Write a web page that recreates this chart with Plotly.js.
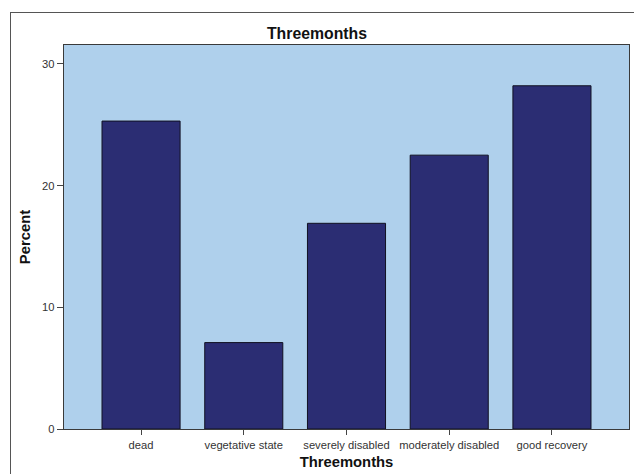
<!DOCTYPE html>
<html>
<head>
<meta charset="utf-8">
<script src="https://cdn.plot.ly/plotly-3.0.1.min.js"></script>
<style>
html,body{margin:0;padding:0;width:634px;height:474px;overflow:hidden;background:#fff;}
#frame{position:absolute;left:10px;top:12px;width:640px;height:520px;border:1px solid #555;box-sizing:border-box;pointer-events:none;z-index:5;}
#chart{position:absolute;left:0;top:0;width:634px;height:474px;}
</style>
</head>
<body>
<div id="chart"></div>
<div id="frame"></div>
<script>
const categories = ["dead", "vegetative state", "severely disabled", "moderately disabled", "good recovery"];
const percents = [25.3, 7.1, 16.9, 22.5, 28.2];
const yTicks = [0, 10, 20, 30];

const trace = {
  type: 'bar',
  x: categories,
  y: percents,
  width: 0.76,
  marker: {color: '#2b2d73', line: {color: '#111122', width: 1}},
  hoverinfo: 'x+y'
};

const layout = {
  width: 634, height: 474,
  margin: {l: 64, r: 5, t: 45, b: 45},
  paper_bgcolor: 'rgba(0,0,0,0)',
  plot_bgcolor: '#afd0ec',
  showlegend: false,
  font: {family: 'Liberation Sans, Arial, sans-serif', color: '#333'},
  title: {text: '<b>Threemonths</b>', x: 0.5, xanchor: 'center', y: 1 - 33/474, yanchor: 'middle',
          font: {size: 15.8, color: '#111', family: 'Liberation Sans, Arial, sans-serif'}},
  xaxis: {
    type: 'category',
    range: [-0.75, 4.75],
    showgrid: false, zeroline: false,
    showline: true, linecolor: '#3a3a3a', linewidth: 1.3, mirror: true,
    ticks: 'outside', ticklen: 5, tickcolor: '#444',
    tickfont: {size: 11.2, color: '#333'},
    title: {text: '<b>Threemonths</b>', standoff: 7, font: {size: 14.8, color: '#111'}}
  },
  yaxis: {
    range: [0, 31.55],
    tickvals: yTicks,
    showgrid: false, zeroline: false,
    showline: true, linecolor: '#3a3a3a', linewidth: 1.3, mirror: true,
    ticks: 'outside', ticklen: 6, tickcolor: '#444',
    tickfont: {size: 11.2, color: '#333'},
    title: {text: '<b>Percent</b>', standoff: 7, font: {size: 14.8, color: '#111'}}
  },
  bargap: 0.24
};

Plotly.newPlot('chart', [trace], layout, {displayModeBar: false, staticPlot: true});
</script>
</body>
</html>
